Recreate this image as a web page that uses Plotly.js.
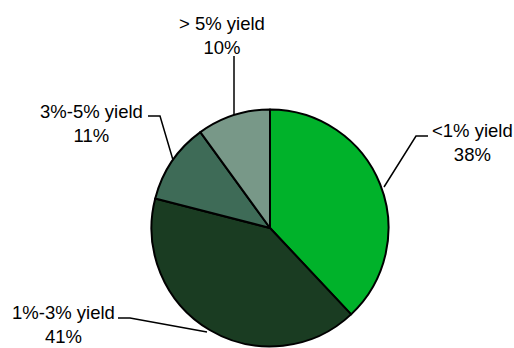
<!DOCTYPE html>
<html>
<head>
<meta charset="utf-8">
<script src="https://cdn.plot.ly/plotly-3.0.1.min.js"></script>
<style>html,body{margin:0;padding:0;background:#fff;}#chart{width:514px;height:348px;}</style>
</head>
<body>
<div id="chart"></div>
<script>
const categories = ['<1% yield', '1%-3% yield', '3%-5% yield', '> 5% yield'];
const values = [38, 41, 11, 10];
const colors = ['#00B22A', '#1A3C22', '#3E6B57', '#789888'];

const W = 514, H = 348;
const cx = 270, cy = 228, r = 118.5;

const labelPos = [
  {x: 472, y: 142},
  {x: 63, y: 324},
  {x: 91, y: 123},
  {x: 222, y: 35}
];
const leaders = [
  [[428,136],[416,136],[384,187]],
  [[118,318],[130,318],[207,332]],
  [[148,116],[160,116],[173,160]],
  [[234,56],[234,115]]
];

const total = values.reduce((a,b)=>a+b,0);
const annotations = categories.map((c,i)=>({
  xref:'x', yref:'y', x: labelPos[i].x, y: labelPos[i].y,
  text: c + '<br>' + Math.round(values[i]/total*100) + '%',
  showarrow:false, xanchor:'center', yanchor:'middle',
  font:{family:'Liberation Sans, Arial, sans-serif', size:18.5, color:'#000'}
}));
const shapes = leaders.map(pts=>({
  type:'path', xref:'x', yref:'y',
  path: pts.map((p,k)=>(k?'L':'M')+p[0]+','+p[1]).join(' '),
  line:{color:'#000', width:1.5}
}));

const data = [{
  type:'pie', labels: categories, values: values, sort:false,
  direction:'clockwise', rotation:0, textinfo:'none', hoverinfo:'none',
  marker:{colors: colors, line:{color:'#000', width:2}},
  domain:{x:[(cx-r)/W,(cx+r)/W], y:[1-(cy+r)/H, 1-(cy-r)/H]},
  showlegend:false
}];
const layout = {
  width:W, height:H, margin:{l:0,r:0,t:0,b:0},
  paper_bgcolor:'#fff', plot_bgcolor:'rgba(0,0,0,0)',
  xaxis:{range:[0,W], visible:false, fixedrange:true},
  yaxis:{range:[H,0], visible:false, fixedrange:true},
  showlegend:false, annotations: annotations, shapes: shapes
};
Plotly.newPlot('chart', data, layout, {staticPlot:true, displayModeBar:false});
</script>
</body>
</html>
